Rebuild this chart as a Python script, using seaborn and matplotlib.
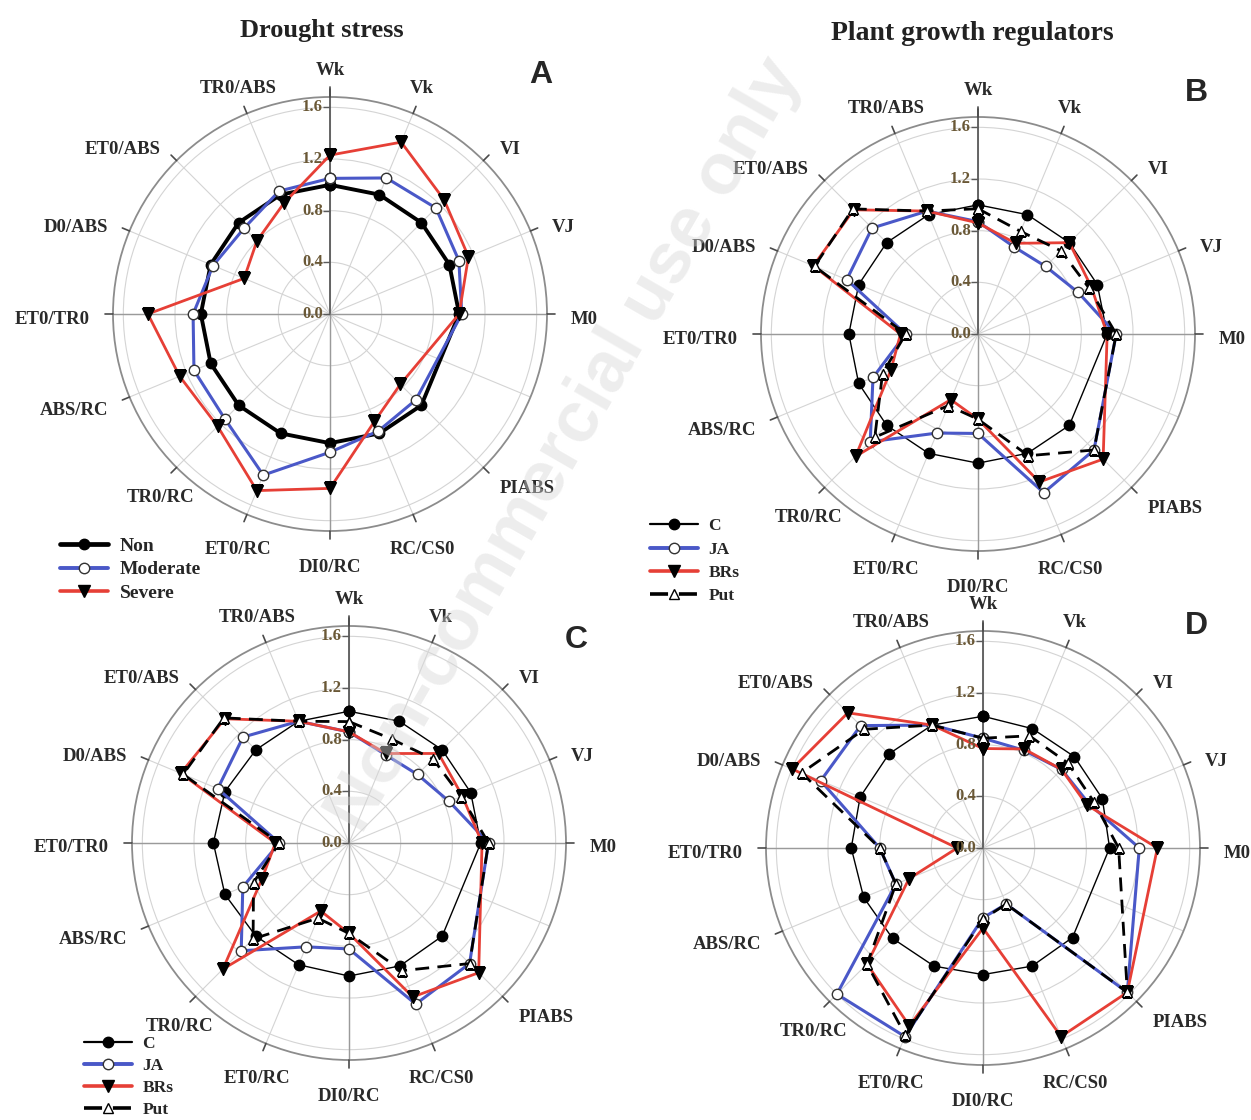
import numpy as np
import pandas as pd
import matplotlib
matplotlib.use("Agg")
import matplotlib.pyplot as plt
from matplotlib.lines import Line2D
from matplotlib.transforms import offset_copy
import seaborn as sns

# radar axes clockwise from the top; the slot after M0 is left empty in the original figure
axis_slots = ['Wk', 'Vk', 'VI', 'VJ', 'M0', '', 'PIABS', 'RC/CS0', 'DI0/RC',
              'ET0/RC', 'TR0/RC', 'ABS/RC', 'ET0/TR0', 'D0/ABS', 'ET0/ABS', 'TR0/ABS']
parameters = [p for p in axis_slots if p]
radial_ticks = [0.0, 0.4, 0.8, 1.2, 1.6]

# A - drought stress (relative to non-stressed plants)
drought_non = [1.00, 1.00, 1.00, 1.00, 1.00, 1.00, 1.00, 1.00, 1.00, 1.00, 1.00, 1.00, 1.00, 1.00, 1.00]
drought_moderate = [1.05, 1.14, 1.16, 1.08, 1.02, 0.94, 0.98, 1.07, 1.35, 1.15, 1.14, 1.06, 0.98, 0.94, 1.03]
drought_severe = [1.23, 1.44, 1.25, 1.16, 1.00, 0.77, 0.90, 1.35, 1.48, 1.23, 1.26, 1.41, 0.72, 0.80, 0.93]

# B, C, D - plant growth regulators
b_c = [1.00, 1.00, 1.00, 1.00, 1.00, 1.00, 1.00, 1.00, 1.00, 1.00, 1.00, 1.00, 1.00, 1.00, 1.00]
b_ja = [0.87, 0.73, 0.74, 0.84, 1.07, 1.27, 1.33, 0.77, 0.83, 1.18, 0.88, 0.56, 1.10, 1.16, 1.03]
b_brs = [0.86, 0.76, 1.00, 0.95, 1.00, 1.37, 1.24, 0.66, 0.55, 1.34, 0.73, 0.60, 1.38, 1.36, 1.03]
b_put = [0.97, 0.86, 0.91, 0.93, 1.07, 1.27, 1.02, 0.66, 0.60, 1.13, 0.80, 0.56, 1.37, 1.37, 1.03]

c_c = [1.02, 1.02, 1.02, 1.02, 1.02, 1.02, 1.03, 1.03, 1.02, 1.02, 1.04, 1.05, 1.04, 1.02, 1.02]
c_ja = [0.86, 0.74, 0.75, 0.84, 1.08, 1.32, 1.35, 0.82, 0.87, 1.18, 0.89, 0.54, 1.10, 1.16, 1.02]
c_brs = [0.86, 0.75, 0.98, 0.95, 1.03, 1.42, 1.29, 0.70, 0.57, 1.38, 0.73, 0.57, 1.41, 1.36, 1.02]
c_put = [0.94, 0.87, 0.92, 0.94, 1.08, 1.32, 1.07, 0.70, 0.63, 1.05, 0.80, 0.54, 1.39, 1.37, 1.02]

d_c = [1.02, 1.00, 1.00, 1.00, 0.98, 0.98, 0.99, 0.98, 0.99, 0.99, 1.00, 1.02, 1.03, 1.03, 1.03]
d_ja = [0.85, 0.82, 0.86, 0.89, 1.21, 1.58, 0.47, 0.54, 1.58, 1.60, 0.73, 0.80, 1.36, 1.34, 1.03]
d_brs = [0.77, 0.83, 0.86, 0.87, 1.35, 1.58, 1.58, 0.62, 1.49, 1.27, 0.62, 0.20, 1.60, 1.48, 1.03]
d_put = [0.85, 0.94, 0.93, 0.93, 1.05, 1.58, 0.47, 0.55, 1.57, 1.27, 0.73, 0.80, 1.52, 1.30, 1.03]

RMAX = 1.68
LABEL_R = 1.86
BLUE = '#4a58c8'
RED = '#e63f36'

styles = {
    'Non': dict(color='black', lw=2.8, marker='o', mfc='black', mec='black', ms=7.5),
    'Moderate': dict(color=BLUE, lw=2.2, marker='o', mfc='white', mec='#333333', ms=7.5),
    'Severe': dict(color=RED, lw=2.0, marker='v', mfc='black', mec='black', ms=8.5),
    'C': dict(color='black', lw=1.0, marker='o', mfc='black', mec='black', ms=7.5),
    'JA': dict(color=BLUE, lw=2.2, marker='o', mfc='white', mec='#333333', ms=7.5),
    'BRs': dict(color=RED, lw=2.0, marker='v', mfc='black', mec='black', ms=8.5),
    'Put': dict(color='black', lw=2.0, ls=(0, (5, 3)), marker='^', mfc='white', mec='black', ms=7.5),
}

sns.set_theme(style="white")
plt.rcParams['font.family'] = ['Liberation Serif', 'DejaVu Serif']
plt.rcParams['font.weight'] = 'bold'

fig = plt.figure(figsize=(12.51, 11.2), dpi=100)
W, H = 1251.0, 1120.0
RPX = 217.0


def polar_axes(cx, cy):
    return fig.add_axes([(cx - RPX) / W, 1 - (cy + RPX) / H, 2 * RPX / W, 2 * RPX / H],
                        projection='polar')


slot_theta = np.linspace(0, 2 * np.pi, len(axis_slots), endpoint=False)
param_theta = np.array([t for t, p in zip(slot_theta, axis_slots) if p])


def draw_radar(ax, series, letter, letter_xy):
    ax.set_theta_zero_location('N')
    ax.set_theta_direction(-1)
    ax.set_facecolor('white')

    for name, values in series.items():
        st = styles[name]
        df = pd.DataFrame({'theta': np.append(param_theta, 2 * np.pi),
                           'value': values + values[:1]})
        sns.lineplot(data=df, x='theta', y='value', ax=ax, sort=False, estimator=None,
                     color=st['color'], linewidth=st['lw'], linestyle=st.get('ls', '-'),
                     marker=st['marker'], markersize=st['ms'], markerfacecolor=st['mfc'],
                     markeredgecolor=st['mec'], markeredgewidth=1.0, zorder=5)

    ax.set_ylim(0, RMAX)
    ax.set_xticks(slot_theta)
    ax.set_xticklabels([])
    ax.set_yticks(radial_ticks[1:])
    ax.set_yticklabels([])
    ax.set_xlabel('')
    ax.set_ylabel('')
    ax.grid(True, color='#d4d4d4', lw=0.8)
    ax.spines['polar'].set_color('#8c8c8c')
    ax.spines['polar'].set_linewidth(1.3)

    # main axes through the centre
    ax.plot([0, 0], [0, RMAX + 0.08], color='#5a5a5a', lw=1.3, clip_on=False, zorder=3)
    for t in (np.pi / 2, np.pi, 3 * np.pi / 2):
        ax.plot([t, t], [0, RMAX], color='#9a9a9a', lw=1.0, zorder=3)
    # short outer ticks on each parameter axis
    for t in param_theta:
        ax.plot([t, t], [RMAX, RMAX + 0.06], color='#4a4a4a', lw=1.2, clip_on=False, zorder=3)

    # radial scale along the top axis
    shifted = offset_copy(ax.transData, fig=fig, x=-7, y=0, units='dots')
    for r in radial_ticks:
        ax.plot([0], [r], marker=0, ms=5, color='#5a5a5a', mew=1.0, zorder=3, clip_on=False)
        ax.text(0, r, f'{r:.1f}', transform=shifted, ha='right', va='center',
                fontsize=12, fontweight='bold', color='#6a5836', zorder=6)

    # parameter names around the circle
    lowered = offset_copy(ax.transData, fig=fig, x=0, y=-5, units='dots')
    for t, p in zip(param_theta, parameters):
        s, c = np.sin(t), np.cos(t)
        ha = 'left' if s > 0.5 else ('right' if s < -0.5 else 'center')
        va = 'bottom' if c > 0.8 else ('top' if c < -0.8 else 'center')
        if p == 'TR0/RC':
            ha, va = 'center', 'top'
        ax.text(t, LABEL_R, p, transform=lowered, ha=ha, va=va, fontsize=13.5,
                fontweight='bold', color='#2a2a2a', clip_on=False)

    fig.text(letter_xy[0] / W, 1 - letter_xy[1] / H, letter, fontsize=23,
             fontweight='bold', family='Liberation Sans', ha='center', va='center')


ax_a = polar_axes(330, 314)
draw_radar(ax_a, {'Non': drought_non, 'Moderate': drought_moderate, 'Severe': drought_severe},
           'A', (541, 75))
ax_b = polar_axes(978, 334)
draw_radar(ax_b, {'C': b_c, 'JA': b_ja, 'BRs': b_brs, 'Put': b_put}, 'B', (1196, 93))
ax_c = polar_axes(349, 843)
draw_radar(ax_c, {'C': c_c, 'JA': c_ja, 'BRs': c_brs, 'Put': c_put}, 'C', (576, 640))
ax_d = polar_axes(983, 848)
draw_radar(ax_d, {'C': d_c, 'JA': d_ja, 'BRs': d_brs, 'Put': d_put}, 'D', (1196, 626))

fig.text(322 / W, 1 - 30 / H, 'Drought stress', ha='center', va='center',
         fontsize=19, fontweight='bold', color='#222222')
fig.text(972 / W, 1 - 33 / H, 'Plant growth regulators', ha='center', va='center',
         fontsize=20, fontweight='bold', color='#222222')


def legend_handles(names):
    hs = []
    for n in names:
        st = styles[n]
        hs.append(Line2D([], [], color=st['color'], lw=st['lw'] + 0.6, ls=st.get('ls', '-'),
                         marker=st['marker'], ms=st['ms'], mfc=st['mfc'], mec=st['mec']))
    return hs


def add_legend(names, x, y, size, spacing):
    fig.legend(legend_handles(names), names, loc='upper left', frameon=False,
               bbox_to_anchor=(x / W, 1 - y / H), handlelength=48 / (size * 1.39),
               handletextpad=0.6, labelspacing=spacing, borderaxespad=0, borderpad=0,
               prop={'family': 'Liberation Serif', 'weight': 'bold', 'size': size})


add_legend(['Non', 'Moderate', 'Severe'], 60, 537, 14, 0.32)
add_legend(['C', 'JA', 'BRs', 'Put'], 650, 518, 12.5, 0.42)
add_legend(['C', 'JA', 'BRs', 'Put'], 84, 1036, 12.5, 0.34)

# faint publisher watermark
fig.text(565 / W, 1 - 445 / H, 'Non-commercial use only', rotation=60, ha='center',
         va='center', fontsize=52, family='Liberation Sans', color='#d8d8d8', alpha=0.45,
         zorder=20)

fig.savefig('out.png', dpi=100, facecolor='white')
